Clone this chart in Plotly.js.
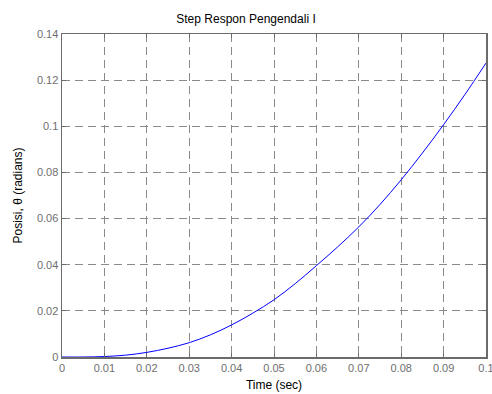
<!DOCTYPE html>
<html><head><meta charset="utf-8">
<script src="https://cdn.plot.ly/plotly-3.0.1.min.js"></script>
<style>html,body{margin:0;padding:0;background:#fff}</style>
</head><body>
<div id="chart" style="width:492px;height:394px"></div>
<script>
const timeSec = [0, 0.005, 0.01, 0.015, 0.02, 0.025, 0.03, 0.035, 0.04, 0.045, 0.05, 0.055, 0.06, 0.065, 0.07, 0.075, 0.08, 0.085, 0.09, 0.095, 0.1];
const posisi = [0, 0, 0.0002, 0.0008, 0.002, 0.0038, 0.0062, 0.0096, 0.0139, 0.019, 0.0248, 0.0318, 0.0396, 0.0477, 0.0564, 0.0661, 0.0768, 0.0884, 0.1007, 0.1137, 0.1274];
const xTicks = [0, 0.01, 0.02, 0.03, 0.04, 0.05, 0.06, 0.07, 0.08, 0.09, 0.1];
const xTickText = ['0', '0.01', '0.02', '0.03', '0.04', '0.05', '0.06', '0.07', '0.08', '0.09', '0.1'];
const yTicks = [0, 0.02, 0.04, 0.06, 0.08, 0.1, 0.12, 0.14];
const yTickText = ['0', '0.02', '0.04', '0.06', '0.08', '0.1', '0.12', '0.14'];

const font = {family: 'Liberation Sans, Arial, sans-serif', size: 11, color: '#000'};
const axisCommon = {
  showline: true, linecolor: '#6b6b6b', linewidth: 1.5, mirror: 'ticks',
  ticks: 'inside', ticklen: 4, tickcolor: '#6b6b6b', tickwidth: 1,
  showgrid: true, gridcolor: '#8a8a8a', gridwidth: 1, griddash: '8px,5px',
  zeroline: false, ticklabeloverflow: 'allow',
  tickfont: {family: font.family, size: 11, color: '#6e6e6e'}
};
Plotly.newPlot('chart', [{
  x: timeSec, y: posisi, type: 'scatter', mode: 'lines', line: {color: '#0000ff', width: 1, shape: 'spline'}
}], {
  width: 492, height: 394,
  margin: {l: 62, r: 6, t: 34, b: 37},
  paper_bgcolor: '#fff', plot_bgcolor: '#fff',
  showlegend: false,
  font: font,
  title: {text: 'Step Respon Pengendali I', font: {family: font.family, size: 12, color: '#000'}, x: 0.5, xanchor: 'center', y: 0.953, yanchor: 'middle'},
  xaxis: Object.assign({}, axisCommon, {range: [0, 0.1000001], tickvals: xTicks, ticktext: xTickText,
    title: {text: 'Time (sec)', font: {family: font.family, size: 12, color: '#000'}, standoff: 8}}),
  yaxis: Object.assign({}, axisCommon, {range: [0, 0.14], tickvals: yTicks, ticktext: yTickText,
    title: {text: 'Posisi, θ (radians)', font: {family: font.family, size: 12, color: '#000'}, standoff: 11}})
}, {displayModeBar: false, staticPlot: true});
</script>
</body></html>
